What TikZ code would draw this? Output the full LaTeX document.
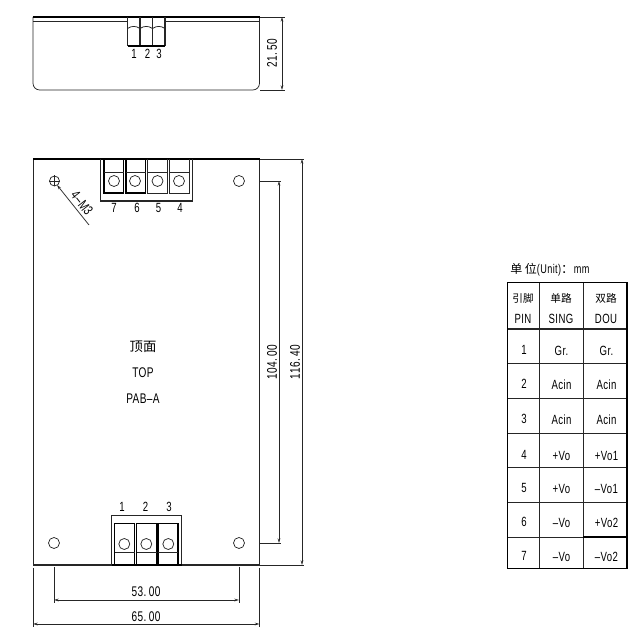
\documentclass[tikz,border=0pt]{standalone}
\usepackage{fontspec}
\setmainfont[FakeStretch=0.72,LetterSpace=3]{Liberation Sans}
\newfontfamily\cjk{Noto Sans CJK SC}
\usetikzlibrary{arrows.meta,positioning}

\begin{document}
\begin{tikzpicture}
    [x=0.75pt,y=-0.75pt,
     >={Stealth[length=3.5pt,width=2pt]},
     line/.style={draw=black!85,line width=0.55pt},
     heavy/.style={draw=black,line width=1.25pt},
     medium/.style={draw=black!85,line width=0.85pt},
     dimline/.style={line,<->},
     pinno/.style={inner sep=0pt,font=\fontsize{10pt}{12pt}\selectfont},
     dimtxt/.style={inner sep=0pt,font=\fontsize{10.5pt}{12pt}\selectfont},
     cell/.style={inner sep=0pt,font=\fontsize{10pt}{11pt}\selectfont},
     cjkcell/.style={inner sep=0pt,font=\cjk\fontsize{8pt}{10pt}\selectfont},
     hole/.style={line}]
    \useasboundingbox (0,0) rectangle (644,641);

    % side view
    \draw[line,rounded corners=5pt] (33,17) -- (33,90) -- (259.5,90) -- (259.5,17);
    \draw[line] (33,21) -- (127.5,21);
    \draw[line] (165,21) -- (259.5,21);
    \draw[heavy] (33,17) -- (259.5,17);
    \foreach \x in {127.5,140,152.5,165} {
      \draw[medium] (\x,17) -- (\x,46);
    }
    \draw[heavy] (127.5,46) -- (165,46);
    \foreach \x/\xx in {127.5/140,140/152.5,152.5/165} {
      \draw[line] (\x,28.5) to [bend left=35] (\xx,28.5);
    }
    \node[pinno] (s1) at (134,54) {1};
    \node[pinno] (s2) at (147.5,54) {2};
    \node[pinno] (s3) at (159,54) {3};

    % height of the side view
    \coordinate (h top) at (282,17);
    \coordinate (h bot) at (282,90);
    \draw[line] (260,17) -- (285,17);
    \draw[line] (260,90) -- (285,90);
    \draw[dimline] (h top) -- (h bot);
    \node[dimtxt,rotate=90] (h txt) at (272,53) {21.\,50};

    % board
    \draw[line] (33,159) -- (33,565);
    \draw[line] (259.5,159) -- (259.5,565);
    \draw[medium] (33,565) -- (259.5,565);
    \draw[heavy] (33,159) -- (259.5,159);

    % upper terminal block
    \draw[medium] (100.5,159) -- (100.5,201) -- (192.5,201) -- (192.5,159);
    \foreach \x/\w/\c in {104/heavy/114,126/heavy/135,147.5/line/157.5,169.5/line/179} {
      \draw[\w] (\x,159) -- (\x,193) -- ++(19.5,0) -- ++(0,-34);
      \draw[line] (\x,172) -- ++(19.5,0);
      \draw[hole] (\c,181) circle (5.5);
    }
    \foreach \x/\n in {114/7,137/6,158.5/5,180/4} {
      \node[pinno] (top\n) at (\x,208) {\n};
    }

    % lower terminal block
    \draw[medium] (111.7,565) -- (111.7,515.7) -- (181.7,515.7) -- (181.7,565);
    \foreach \x/\c in {114.5/124.3,136.5/146.3,158/168.3} {
      \draw[heavy] (\x,565) -- (\x,523.5) -- ++(20,0) -- ++(0,41.5);
      \draw[line] (\x,552) -- ++(20,0);
      \draw[hole] (\c,544) circle (5.5);
    }
    \draw[heavy] (111.7,565) -- (181.7,565);
    \foreach \x/\n in {122/1,145.5/2,169/3} {
      \node[pinno] (bot\n) at (\x,507) {\n};
    }

    % mounting holes
    \draw[hole] (54.5,181) circle (5);
    \draw[line] (49,181) -- (60,181);
    \draw[line] (54.5,175.5) -- (54.5,186.5);
    \foreach \x/\y in {239/181,54/543,239/543} {
      \draw[hole] (\x,\y) circle (5.5);
    }
    \coordinate (lead a) at (57,185);
    \coordinate (lead b) at (89,225);
    \draw[line,<-] (lead a) -- (lead b);
    \node[dimtxt,rotate=-52] (m3) at (82,203) {4–M3};

    % board texts
    \node[inner sep=0pt,font=\cjk\fontsize{10pt}{12pt}\selectfont] (ding) at (143,347) {顶面};
    \node[dimtxt] (ptop) at (143,373) {TOP};
    \node[dimtxt] (pab) at (143,399) {PAB–A};

    % dimensions on the right
    \draw[line] (260,181) -- (281,181);
    \draw[line] (260,543) -- (281,543);
    \coordinate (a top) at (279,181);
    \coordinate (a bot) at (279,543);
    \draw[dimline] (a top) -- (a bot);
    \node[dimtxt,rotate=90] (a txt) at (272,362) {104.\,00};
    \draw[line] (260,159) -- (304,159);
    \draw[line] (260,565) -- (304,565);
    \coordinate (b top) at (302,159);
    \coordinate (b bot) at (302,565);
    \draw[dimline] (b top) -- (b bot);
    \node[dimtxt,rotate=90] (b txt) at (295,362) {116.\,40};

    % dimensions below
    \draw[line] (54,567) -- (54,603);
    \draw[line] (239,567) -- (239,603);
    \coordinate (c left) at (54,600);
    \coordinate (c right) at (239,600);
    \draw[dimline] (c left) -- (c right);
    \node[dimtxt] (c txt) at (146,592) {53.\,00};
    \draw[line] (33,568) -- (33,627);
    \draw[line] (259.5,568) -- (259.5,627);
    \coordinate (d left) at (33,624);
    \coordinate (d right) at (259.5,624);
    \draw[dimline] (d left) -- (d right);
    \node[dimtxt] (d txt) at (146,617) {65.\,00};

    % pin table
    \node[inner sep=0pt,anchor=west,font=\fontsize{9.5pt}{10pt}\selectfont] (unit) at (510,270)
      {{\cjk\fontsize{9pt}{10pt}\selectfont 单 位}(Unit){\cjk ：}mm};
    \foreach \y in {329,363.3,398.3,433.3,467.7,502.7,537.3} {
      \draw[medium] (507.3,\y) -- (627,\y);
    }
    \foreach \x in {539.3,583.3} {
      \draw[medium] (\x,282.7) -- (\x,568.3);
    }
    \draw[heavy] (583.3,537.3) -- (627,537.3);
    \draw[line width=1.1pt] (507.3,282.7) rectangle (627,568.3);
    \node[cjkcell] (h1a) at (523,298) {引脚};
    \node[cell] (h1b) at (523,319) {PIN};
    \node[cjkcell] (h2a) at (561,298) {单路};
    \node[cell] (h2b) at (561,319) {SING};
    \node[cjkcell] (h3a) at (606,298) {双路};
    \node[cell] (h3b) at (606,319) {DOU};
    \foreach \n/\y/\s/\d in {1/350/Gr./Gr.,2/384/Acin/Acin,3/419/Acin/Acin,
        4/455/+Vo/+Vo1,5/488/+Vo/–Vo1,6/522/–Vo/+Vo2,7/556/–Vo/–Vo2} {
      \node[cell] (pin\n) at (524,\y) {\n};
      \node[cell] (sing\n) at (561.5,\y+1) {\s};
      \node[cell] (dou\n) at (606.5,\y+1) {\d};
    }
\end{tikzpicture}
\end{document}
